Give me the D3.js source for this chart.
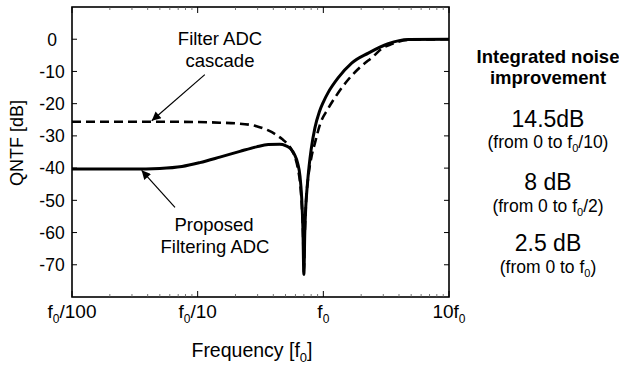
<!DOCTYPE html>
<meta charset="utf-8">
<head>
  <script src="https://d3js.org/d3.v7.min.js"></script>
  <style>
    body { margin: 0; background: #fff; font-family: 'Liberation Sans', Arial, sans-serif; }
  </style>
</head>
<div id="my_dataviz"></div>
<script>
  // frequency in units of f0, QNTF in dB
  var solidF  = [0.01, 0.03, 0.05, 0.075, 0.104, 0.15, 0.217, 0.294, 0.365, 0.45, 0.5, 0.55, 0.59, 0.625, 0.652, 0.672, 0.688, 0.70,
                 0.712, 0.725, 0.745, 0.77, 0.80, 0.857, 0.93, 1.0, 1.094, 1.31, 1.68, 2.28, 3.28, 4.74, 10];
  var solidDB = [-40.3, -40.3, -40.1, -39.5, -38.3, -36.6, -34.8, -33.4, -32.7, -32.6, -33.0, -34.0, -35.8, -38.5, -42.5, -49, -59, -73,
                 -60, -52, -45.5, -39.5, -34.2, -27.5, -22.5, -19.5, -16.5, -12, -7.4, -4.3, -1.4, -0.1, 0];

  var dashF  = [0.01, 0.05, 0.1, 0.15, 0.2, 0.294, 0.365, 0.42, 0.47, 0.51, 0.56, 0.6, 0.63, 0.655, 0.675, 0.69, 0.70,
                0.712, 0.73, 0.76, 0.80, 0.86, 0.94, 1.094, 1.31, 1.58, 2.0, 2.5, 2.9, 3.5, 4.74, 10];
  var dashDB = [-25.6, -25.6, -25.7, -25.9, -26.1, -27, -28.3, -29.6, -31, -32.2, -34.4, -37, -40.5, -45, -52, -61, -72,
                -60, -50, -42.5, -37, -32, -26.5, -21.5, -16.7, -12.5, -8.4, -5.3, -3.0, -1.5, -0.2, 0];

  var xTicks = [0.01, 0.1, 1, 10];
  var xTickLabels = [["f", "0", "/100"], ["f", "0", "/10"], ["f", "0", ""], ["10f", "0", ""]];
  var yTicks = [0, -10, -20, -30, -40, -50, -60, -70];

  var noiseValues = ["14.5dB", "8 dB", "2.5 dB"];
  var noiseRanges = [["(from 0 to f", "0", "/10)"], ["(from 0 to f", "0", "/2)"], ["(from 0 to f", "0", ")"]];

  var margin = {top: 7, right: 170, bottom: 68, left: 72},
      width = 619 - margin.left - margin.right,
      height = 365 - margin.top - margin.bottom;

  var svg = d3.select("#my_dataviz")
    .append("svg")
    .attr("width", 619)
    .attr("height", 365);

  var defs = svg.append("defs");
  defs.append("marker")
    .attr("id", "head")
    .attr("viewBox", "0 0 10 10")
    .attr("refX", 10).attr("refY", 5)
    .attr("markerWidth", 12).attr("markerHeight", 9)
    .attr("markerUnits", "userSpaceOnUse")
    .attr("orient", "auto")
    .append("path")
    .attr("d", "M0,0 L10,5 L0,10 Z")
    .attr("fill", "#000");

  var g = svg.append("g")
    .attr("transform", "translate(" + margin.left + "," + margin.top + ")");

  var x = d3.scaleLog().domain([0.01, 10]).range([0, width]);
  var y = d3.scaleLinear().domain([-80, 10]).range([height, 0]);

  // minor log ticks
  var minor = [];
  [0.01, 0.1, 1].forEach(function (d) {
    for (var k = 2; k <= 9; k++) minor.push(d * k);
  });

  // frame
  g.append("rect")
    .attr("width", width).attr("height", height)
    .attr("fill", "none").attr("stroke", "#000").attr("stroke-width", 1.6);

  // x ticks (bottom + top, inward)
  g.selectAll(".xminb").data(minor).enter().append("line")
    .attr("x1", function (d) { return x(d); }).attr("x2", function (d) { return x(d); })
    .attr("y1", height).attr("y2", height - 3)
    .attr("stroke", "#555").attr("stroke-width", 0.8);
  g.selectAll(".xmint").data(minor).enter().append("line")
    .attr("x1", function (d) { return x(d); }).attr("x2", function (d) { return x(d); })
    .attr("y1", 0).attr("y2", 3)
    .attr("stroke", "#555").attr("stroke-width", 0.8);
  g.selectAll(".xmajb").data(xTicks).enter().append("line")
    .attr("x1", function (d) { return x(d); }).attr("x2", function (d) { return x(d); })
    .attr("y1", height).attr("y2", height - 6)
    .attr("stroke", "#000").attr("stroke-width", 1);
  g.selectAll(".xmajt").data(xTicks).enter().append("line")
    .attr("x1", function (d) { return x(d); }).attr("x2", function (d) { return x(d); })
    .attr("y1", 0).attr("y2", 6)
    .attr("stroke", "#000").attr("stroke-width", 1);

  // y ticks (left + right, inward)
  g.selectAll(".yl").data(yTicks).enter().append("line")
    .attr("x1", 0).attr("x2", 5)
    .attr("y1", function (d) { return y(d); }).attr("y2", function (d) { return y(d); })
    .attr("stroke", "#000").attr("stroke-width", 1);
  g.selectAll(".yr").data(yTicks).enter().append("line")
    .attr("x1", width).attr("x2", width - 5)
    .attr("y1", function (d) { return y(d); }).attr("y2", function (d) { return y(d); })
    .attr("stroke", "#000").attr("stroke-width", 1);

  // y tick labels
  g.selectAll(".ylab").data(yTicks).enter().append("text")
    .attr("x", -20)
    .attr("y", function (d) { return y(d); })
    .attr("dy", "0.36em")
    .attr("text-anchor", "middle")
    .style("font-size", "17.5px")
    .text(function (d) { return d; });

  // x tick labels with subscript
  var xl = g.selectAll(".xlab").data(xTicks).enter().append("text")
    .attr("x", function (d) { return x(d); })
    .attr("y", height + 21)
    .attr("text-anchor", "middle")
    .style("font-size", "19px");
  xl.each(function (d, i) {
    var t = d3.select(this), parts = xTickLabels[i];
    t.append("tspan").text(parts[0]);
    t.append("tspan").attr("dy", 5).style("font-size", "12px").text(parts[1]);
    t.append("tspan").attr("dy", -5).text(parts[2]);
  });

  // axis titles
  var xt = g.append("text")
    .attr("x", 180).attr("y", height + 60)
    .attr("text-anchor", "middle")
    .style("font-size", "19.5px");
  xt.append("tspan").text("Frequency [f");
  xt.append("tspan").attr("dy", 5).style("font-size", "13px").text("0");
  xt.append("tspan").attr("dy", -5).text("]");

  svg.append("text")
    .attr("transform", "translate(23,143) rotate(-90)")
    .attr("text-anchor", "middle")
    .style("font-size", "18px")
    .text("QNTF [dB]");

  // curves
  var line = d3.line()
    .x(function (d) { return x(d[0]); })
    .y(function (d) { return y(d[1]); })
    .curve(d3.curveMonotoneX);

  g.append("path")
    .datum(dashF.map(function (f, i) { return [f, dashDB[i]]; }))
    .attr("fill", "none").attr("stroke", "#000")
    .attr("stroke-width", 2.6)
    .attr("stroke-dasharray", "9,5")
    .attr("d", line);

  g.append("path")
    .datum(solidF.map(function (f, i) { return [f, solidDB[i]]; }))
    .attr("fill", "none").attr("stroke", "#000")
    .attr("stroke-width", 3)
    .attr("stroke-linejoin", "round")
    .attr("d", line);

  // annotations
  g.append("line")
    .attr("x1", x(0.114)).attr("y1", y(-11))
    .attr("x2", x(0.0431)).attr("y2", y(-25.3))
    .attr("stroke", "#000").attr("stroke-width", 1.2)
    .attr("marker-end", "url(#head)");
  g.append("line")
    .attr("x1", x(0.066)).attr("y1", y(-52.2))
    .attr("x2", x(0.0358)).attr("y2", y(-40.7))
    .attr("stroke", "#000").attr("stroke-width", 1.2)
    .attr("marker-end", "url(#head)");

  svg.append("text").attr("x", 220).attr("y", 45).attr("text-anchor", "middle")
    .style("font-size", "18.5px").text("Filter ADC");
  svg.append("text").attr("x", 220).attr("y", 67).attr("text-anchor", "middle")
    .style("font-size", "18.5px").text("cascade");
  svg.append("text").attr("x", 214).attr("y", 231).attr("text-anchor", "middle")
    .style("font-size", "18.5px").text("Proposed");
  svg.append("text").attr("x", 215).attr("y", 253).attr("text-anchor", "middle")
    .style("font-size", "18.5px").text("Filtering ADC");

  // right-side panel
  var cx = 548;
  svg.append("text").attr("x", cx).attr("y", 63).attr("text-anchor", "middle")
    .style("font-size", "18.5px").style("font-weight", "bold").text("Integrated noise");
  svg.append("text").attr("x", cx).attr("y", 84).attr("text-anchor", "middle")
    .style("font-size", "18.5px").style("font-weight", "bold").text("improvement");

  var valY = [127, 190, 251], rngY = [148, 212, 273];
  noiseValues.forEach(function (v, i) {
    svg.append("text").attr("x", cx).attr("y", valY[i]).attr("text-anchor", "middle")
      .style("font-size", "23px").text(v);
    var t = svg.append("text").attr("x", cx).attr("y", rngY[i]).attr("text-anchor", "middle")
      .style("font-size", "17.5px");
    t.append("tspan").text(noiseRanges[i][0]);
    t.append("tspan").attr("dy", 4).style("font-size", "11px").text(noiseRanges[i][1]);
    t.append("tspan").attr("dy", -4).text(noiseRanges[i][2]);
  });
</script>
